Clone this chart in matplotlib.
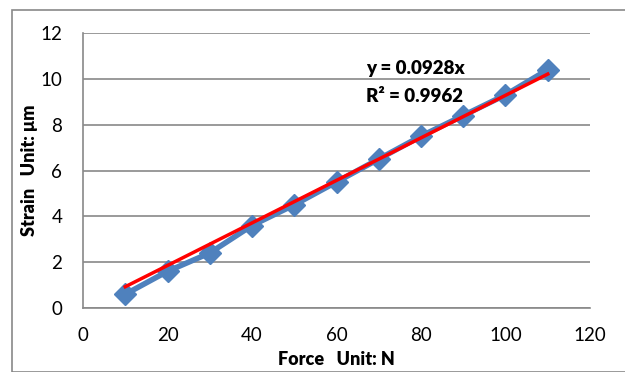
import numpy as np
import matplotlib
matplotlib.use("Agg")
import matplotlib.pyplot as plt
from matplotlib.patches import Rectangle

plt.rcParams['font.family'] = ['Lato', 'DejaVu Sans']

force = [10, 20, 30, 40, 50, 60, 70, 80, 90, 100, 110]
strain = [0.6, 1.6, 2.4, 3.6, 4.5, 5.5, 6.5, 7.5, 8.4, 9.3, 10.4]
slope = 0.0928
r2 = 0.9962

fig = plt.figure(figsize=(6.25, 3.72), dpi=100)
# outer chart frame
fig.patches.append(Rectangle((12 / 625, 0), 1, 1 - 10 / 372, transform=fig.transFigure,
                             fill=False, edgecolor='#898989', linewidth=1.2))
ax = fig.add_axes([83 / 625, 1 - 308 / 372, (590 - 83) / 625, (308 - 33) / 372])

ax.plot(force, strain, color='#4F81BD', linewidth=4, marker='D', markersize=11,
        markerfacecolor='#4F81BD', markeredgecolor='#4F81BD', zorder=3)
fx = np.array([force[0], force[-1]])
ax.plot(fx, slope * fx, color='#FF0000', linewidth=2.5, zorder=4)

ax.set_xlim(0, 120)
ax.set_ylim(0, 12)
ax.set_xticks(range(0, 121, 20))
ax.set_yticks(range(0, 13, 2))
ax.grid(axis='y', color='#898989', linewidth=1.2)
ax.set_axisbelow(True)
for s in ['top', 'right']:
    ax.spines[s].set_visible(False)
for s in ['left', 'bottom']:
    ax.spines[s].set_color('#898989')
    ax.spines[s].set_linewidth(1.2)
ax.tick_params(length=0, labelsize=13.5)
ax.tick_params(axis='y', pad=15)
ax.tick_params(axis='x', pad=14)

ax.set_xlabel('Force   Unit: N', fontsize=13, fontweight='heavy')
ax.set_ylabel('Strain   Unit: μm', fontsize=13, fontweight='heavy')
ax.xaxis.set_label_coords(0.5, -0.155)
ax.yaxis.set_label_coords(-0.088, 0.5)

ax.text(67, 10.45, 'y = 0.0928x', fontsize=13.5, fontweight='heavy', va='center')
ax.text(67, 9.25, 'R² = 0.9962', fontsize=13.5, fontweight='heavy', va='center')

fig.savefig('out.png', dpi=100)
